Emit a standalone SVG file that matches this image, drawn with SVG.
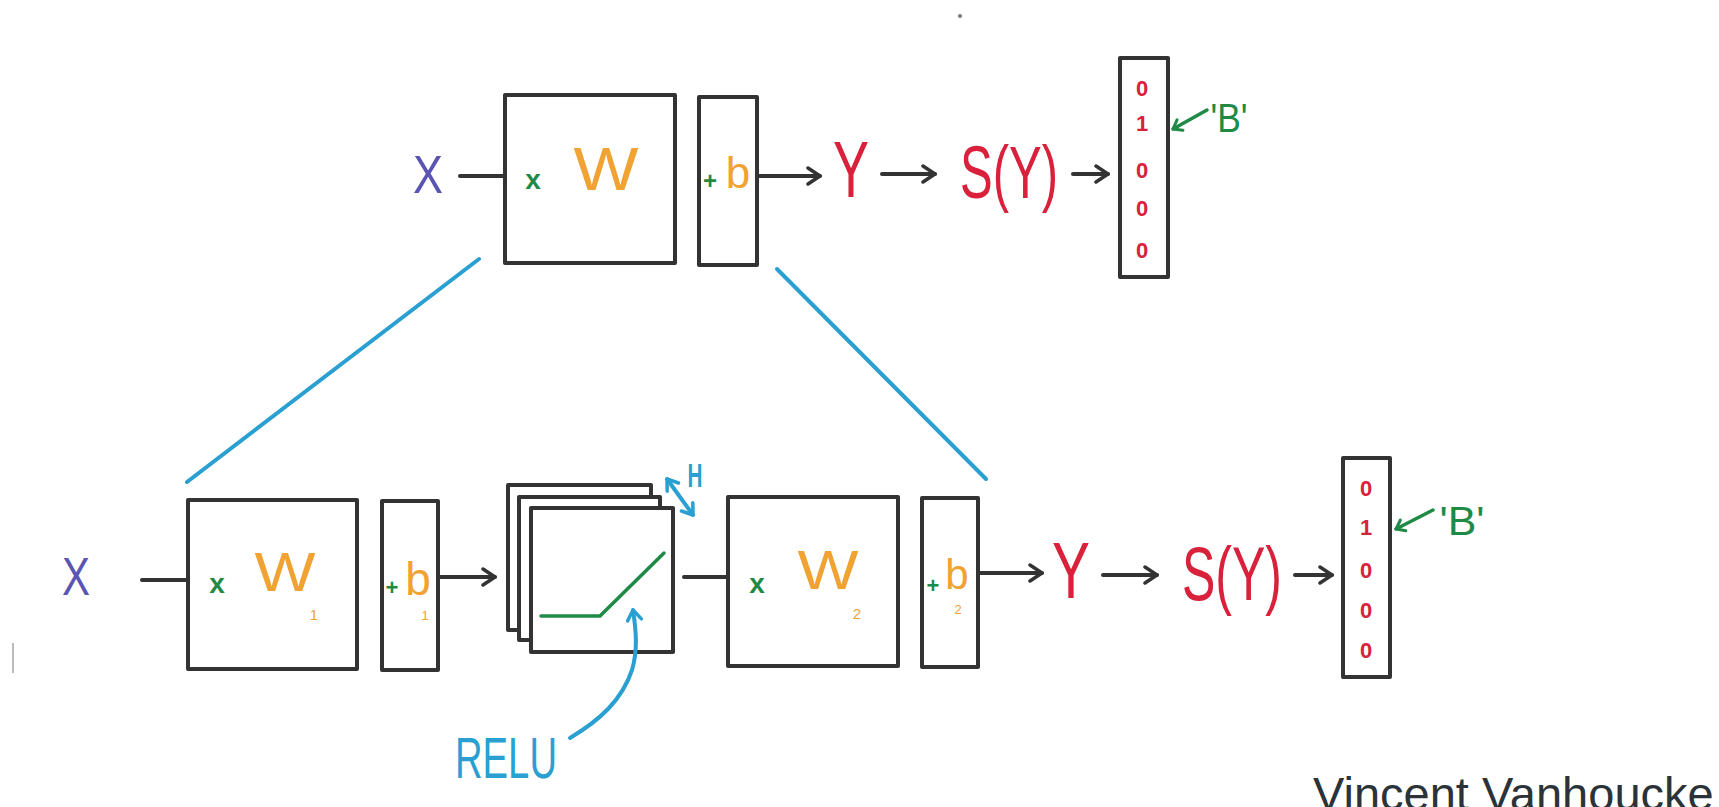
<svg xmlns="http://www.w3.org/2000/svg" width="1719" height="807" viewBox="0 0 1719 807">
<style>
.box{fill:#fff;stroke:#333;stroke-width:4;stroke-linejoin:round}
.wire{fill:none;stroke:#333;stroke-width:4;stroke-linecap:round}
.blue{fill:none;stroke:#2a9fd2;stroke-width:4;stroke-linecap:round}
.green{fill:none;stroke:#1f8a45;stroke-width:3.5;stroke-linecap:round}
.t{font-family:"Liberation Sans",Arial,sans-serif}
.xin{fill:#5a55b3}
.w{fill:#f0a232}
.g{fill:#1f8a45;font-weight:bold}
.r{fill:#d9213c}
.dig{fill:#d9213c;font-weight:bold;font-size:22px;text-anchor:middle}
.bl{fill:#2a9fd2}
</style>
<defs>
<marker id="ah" viewBox="0 0 20 20" refX="18" refY="10" markerWidth="20" markerHeight="20" markerUnits="userSpaceOnUse" orient="auto">
<path d="M6,2 L18,10 L6,18" fill="none" stroke="#333" stroke-width="3.5" stroke-linecap="round" stroke-linejoin="round"/>
</marker>
<marker id="ahg" viewBox="0 0 16 16" refX="13" refY="8" markerWidth="16" markerHeight="16" markerUnits="userSpaceOnUse" orient="auto">
<path d="M5,2 L13,8 L5,14" fill="none" stroke="#1f8a45" stroke-width="3" stroke-linecap="round" stroke-linejoin="round"/>
</marker>
<marker id="ahb" viewBox="0 0 18 18" refX="15" refY="9" markerWidth="18" markerHeight="18" markerUnits="userSpaceOnUse" orient="auto-start-reverse">
<path d="M5,2 L15,9 L5,16" fill="none" stroke="#2a9fd2" stroke-width="3.5" stroke-linecap="round" stroke-linejoin="round"/>
</marker>
</defs>
<rect width="1719" height="807" fill="#fff"/>
<circle cx="960" cy="16" r="2" fill="#777"/>
<line x1="13" y1="643" x2="13" y2="673" stroke="#bbb" stroke-width="2"/>

<g id="x-top"><text class="t xin" x="428" y="193" font-size="54" text-anchor="middle" textLength="30" lengthAdjust="spacingAndGlyphs">X</text></g>
<g id="w-top">
<rect class="box" x="505" y="95" width="170" height="168"/>
<text class="t g" x="533" y="189" font-size="28" text-anchor="middle">x</text>
<text class="t w" x="606" y="190" font-size="62" text-anchor="middle" textLength="65" lengthAdjust="spacingAndGlyphs">W</text>
</g>
<g id="b-top">
<rect class="box" x="699" y="97" width="58" height="168"/>
<text class="t g" x="710" y="189" font-size="24" text-anchor="middle">+</text>
<text class="t w" x="738" y="188" font-size="44" text-anchor="middle">b</text>
</g>
<g id="y-top"><text class="t r" x="851" y="197" font-size="80" text-anchor="middle" textLength="36" lengthAdjust="spacingAndGlyphs">Y</text></g>
<g id="s-top"><text class="t r" x="960" y="198" font-size="74" textLength="98" lengthAdjust="spacingAndGlyphs">S(Y)</text></g>
<g id="onehot-top">
<rect class="box" x="1120" y="58" width="48" height="219"/>
<text class="t dig" x="1142" y="96">0</text>
<text class="t dig" x="1142" y="131">1</text>
<text class="t dig" x="1142" y="178">0</text>
<text class="t dig" x="1142" y="216">0</text>
<text class="t dig" x="1142" y="258">0</text>
<text class="t" x="1229" y="132" font-size="40" fill="#1f8a45" text-anchor="middle" textLength="37" lengthAdjust="spacingAndGlyphs">'B'</text>
</g>

<g id="x-bot"><text class="t xin" x="76" y="595" font-size="54" text-anchor="middle" textLength="28" lengthAdjust="spacingAndGlyphs">X</text></g>
<g id="w1">
<rect class="box" x="188" y="500" width="169" height="169"/>
<text class="t g" x="217" y="593" font-size="28" text-anchor="middle">x</text>
<text class="t w" x="285" y="591" font-size="56" text-anchor="middle" textLength="61" lengthAdjust="spacingAndGlyphs">W</text>
<text class="t w" x="314" y="620" font-size="15" text-anchor="middle">1</text>
</g>
<g id="b1">
<rect class="box" x="382" y="501" width="56" height="169"/>
<text class="t g" x="392" y="595" font-size="22" text-anchor="middle">+</text>
<text class="t w" x="418" y="595" font-size="46" text-anchor="middle">b</text>
<text class="t w" x="425" y="620" font-size="13" text-anchor="middle">1</text>
</g>
<g id="relu-stack">
<rect class="box" x="508" y="485" width="143" height="145"/>
<rect class="box" x="519" y="497" width="141" height="143"/>
<rect class="box" x="531" y="508" width="142" height="144"/>
<polyline class="green" points="541,616 600,616 664,553" stroke-width="4"/>
<text class="t bl" x="695" y="487" font-size="34" font-weight="bold" text-anchor="middle" textLength="15" lengthAdjust="spacingAndGlyphs">H</text>
</g>
<g id="w2">
<rect class="box" x="728" y="497" width="170" height="169"/>
<text class="t g" x="757" y="593" font-size="28" text-anchor="middle">x</text>
<text class="t w" x="828" y="589" font-size="56" text-anchor="middle" textLength="61" lengthAdjust="spacingAndGlyphs">W</text>
<text class="t w" x="857" y="619" font-size="15" text-anchor="middle">2</text>
</g>
<g id="b2">
<rect class="box" x="922" y="498" width="56" height="169"/>
<text class="t g" x="933" y="593" font-size="22" text-anchor="middle">+</text>
<text class="t w" x="957" y="589" font-size="42" text-anchor="middle">b</text>
<text class="t w" x="958" y="614" font-size="13" text-anchor="middle">2</text>
</g>
<g id="y-bot"><text class="t r" x="1071" y="598" font-size="80" text-anchor="middle" textLength="38" lengthAdjust="spacingAndGlyphs">Y</text></g>
<g id="s-bot"><text class="t r" x="1182" y="600" font-size="76" textLength="100" lengthAdjust="spacingAndGlyphs">S(Y)</text></g>
<g id="onehot-bot">
<rect class="box" x="1343" y="458" width="47" height="219"/>
<text class="t dig" x="1366" y="496">0</text>
<text class="t dig" x="1366" y="535">1</text>
<text class="t dig" x="1366" y="578">0</text>
<text class="t dig" x="1366" y="618">0</text>
<text class="t dig" x="1366" y="658">0</text>
<text class="t" x="1462" y="535" font-size="40" fill="#1f8a45" text-anchor="middle" textLength="45" lengthAdjust="spacingAndGlyphs">'B'</text>
</g>
<g id="relu-label"><text class="t bl" x="455" y="778" font-size="58" textLength="102" lengthAdjust="spacingAndGlyphs">RELU</text></g>
<g id="credit"><text class="t" x="1313" y="810" font-size="47" fill="#2b3338">Vincent Vanhoucke</text></g>

<g id="connectors">
<line class="wire" x1="460" y1="176" x2="505" y2="176"/>
<line class="wire" x1="757" y1="176" x2="820" y2="176" marker-end="url(#ah)"/>
<line class="wire" x1="882" y1="174" x2="935" y2="174" marker-end="url(#ah)"/>
<line class="wire" x1="1073" y1="174" x2="1108" y2="174" marker-end="url(#ah)"/>
<line class="wire" x1="142" y1="580" x2="188" y2="580"/>
<line class="wire" x1="438" y1="577" x2="495" y2="577" marker-end="url(#ah)"/>
<line class="wire" x1="684" y1="577" x2="728" y2="577"/>
<line class="wire" x1="978" y1="573" x2="1042" y2="573" marker-end="url(#ah)"/>
<line class="wire" x1="1103" y1="575" x2="1157" y2="575" marker-end="url(#ah)"/>
<line class="wire" x1="1295" y1="575" x2="1332" y2="575" marker-end="url(#ah)"/>
<line class="blue" x1="479" y1="259" x2="187" y2="482"/>
<line class="blue" x1="777" y1="269" x2="986" y2="479"/>
<line class="green" x1="1207" y1="110" x2="1173" y2="129" marker-end="url(#ahg)"/>
<line class="green" x1="1433" y1="510" x2="1396" y2="529" marker-end="url(#ahg)"/>
<path class="blue" d="M570,738 C600,720 622,700 632,670 C638,650 636,630 633,610" marker-end="url(#ahb)"/>
<line class="blue" x1="667" y1="479" x2="693" y2="515" marker-start="url(#ahb)" marker-end="url(#ahb)"/>
</g>
</svg>
